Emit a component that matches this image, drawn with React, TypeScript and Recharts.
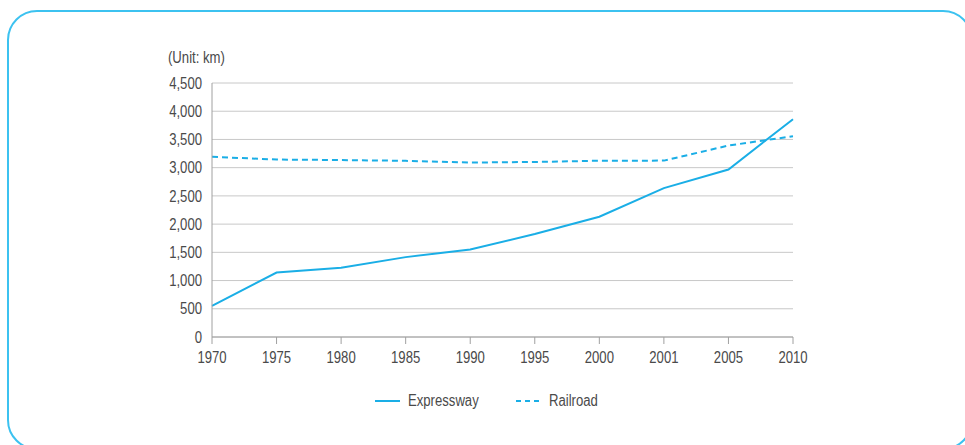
import React from "react";
import { LineChart, Line, XAxis, YAxis, CartesianGrid, Legend } from "recharts";

const years = ["1970", "1975", "1980", "1985", "1990", "1995", "2000", "2001", "2005", "2010"];
const expressway = [551, 1142, 1225, 1415, 1551, 1825, 2131, 2637, 2968, 3859];
const railroad = [3193, 3144, 3135, 3121, 3091, 3101, 3123, 3125, 3392, 3557];
const yTicks = [0, 500, 1000, 1500, 2000, 2500, 3000, 3500, 4000, 4500];

const BLUE = "#1aaee6";
const TEXT = "#4a4a4a";
const FONT = "'Liberation Sans', Arial, sans-serif";
const SQUEEZE = 0.82; // the original font is a narrow one

const data = years.map((year, i) => ({
    year,
    expressway: expressway[i],
    railroad: railroad[i],
}));

const fmt = (v: number) => v.toLocaleString("en-US");

const XTick = (props: any) => {
    const { x, y, payload } = props;
    return (
        <g transform={`translate(${x},${y}) scale(${SQUEEZE},1)`}>
            <text textAnchor="middle" dy="0.71em" fill={TEXT} fontSize={16} fontFamily={FONT}>
                {payload.value}
            </text>
        </g>
    );
};

const YTick = (props: any) => {
    const { x, y, payload } = props;
    return (
        <g transform={`translate(${x},${y}) scale(${SQUEEZE},1)`}>
            <text textAnchor="end" dy="0.355em" fill={TEXT} fontSize={16} fontFamily={FONT}>
                {fmt(payload.value)}
            </text>
        </g>
    );
};

const Narrow = ({ width, children }: { width: number; children: React.ReactNode }) => (
    <span style={{ display: "inline-block", width, whiteSpace: "nowrap" }}>
        <span style={{ display: "inline-block", transform: `scaleX(${SQUEEZE})`, transformOrigin: "left center" }}>
            {children}
        </span>
    </span>
);

const LegendContent = () => (
    <div style={{ display: "flex", justifyContent: "center", fontFamily: FONT, fontSize: 16, color: TEXT }}>
        <div style={{ display: "flex", alignItems: "center", marginRight: 36 }}>
            <svg width={25} height={4} style={{ marginRight: 8 }}>
                <line x1={0} y1={2} x2={25} y2={2} stroke={BLUE} strokeWidth={2} />
            </svg>
            <Narrow width={72}>Expressway</Narrow>
        </div>
        <div style={{ display: "flex", alignItems: "center" }}>
            <svg width={24} height={4} style={{ marginRight: 9 }}>
                <line x1={0} y1={2} x2={24} y2={2} stroke={BLUE} strokeWidth={2} strokeDasharray="5 4" />
            </svg>
            <Narrow width={47}>Railroad</Narrow>
        </div>
    </div>
);

const App = () => (
    <div style={{ position: "absolute", left: 0, top: 0, width: 965, height: 445, overflow: "hidden", background: "#fff" }}>
        <svg width={965} height={445} style={{ position: "absolute", left: 0, top: 0 }}>
            <rect x={8} y={11} width={964} height={438} rx={29} ry={29} fill="none" stroke="#3cc2f0" strokeWidth={2} />
        </svg>
        <div
            style={{
                position: "absolute",
                left: 168,
                top: 49,
                fontFamily: FONT,
                fontSize: 16,
                color: TEXT,
            }}
        >
            <Narrow width={64}>(Unit: km)</Narrow>
        </div>
        <div style={{ position: "absolute", left: 0, top: 0 }}>
            <LineChart width={965} height={445} data={data} margin={{ top: 83, right: 172, left: 152, bottom: 78 }}>
                <CartesianGrid vertical={false} stroke="#c8c8c8" />
                <XAxis
                    dataKey="year"
                    height={30}
                    stroke="#a0a0a0"
                    tickSize={7}
                    tickMargin={8}
                    tick={<XTick />}
                    padding={{ left: 0, right: 0 }}
                />
                <YAxis
                    width={60}
                    domain={[0, 4500]}
                    ticks={yTicks}
                    interval={0}
                    stroke="#a0a0a0"
                    tickLine={false}
                    tickMargin={4}
                    tick={<YTick />}
                />
                <Legend
                    layout="horizontal"
                    verticalAlign="middle"
                    align="center"
                    content={<LegendContent />}
                    wrapperStyle={{ top: 392, left: 3, width: 965 }}
                />
                <Line
                    type="linear"
                    dataKey="expressway"
                    name="Expressway"
                    stroke={BLUE}
                    strokeWidth={2}
                    dot={false}
                    isAnimationActive={false}
                />
                <Line
                    type="linear"
                    dataKey="railroad"
                    name="Railroad"
                    stroke={BLUE}
                    strokeWidth={2}
                    strokeDasharray="6 4"
                    dot={false}
                    isAnimationActive={false}
                />
            </LineChart>
        </div>
    </div>
);

export default App;
